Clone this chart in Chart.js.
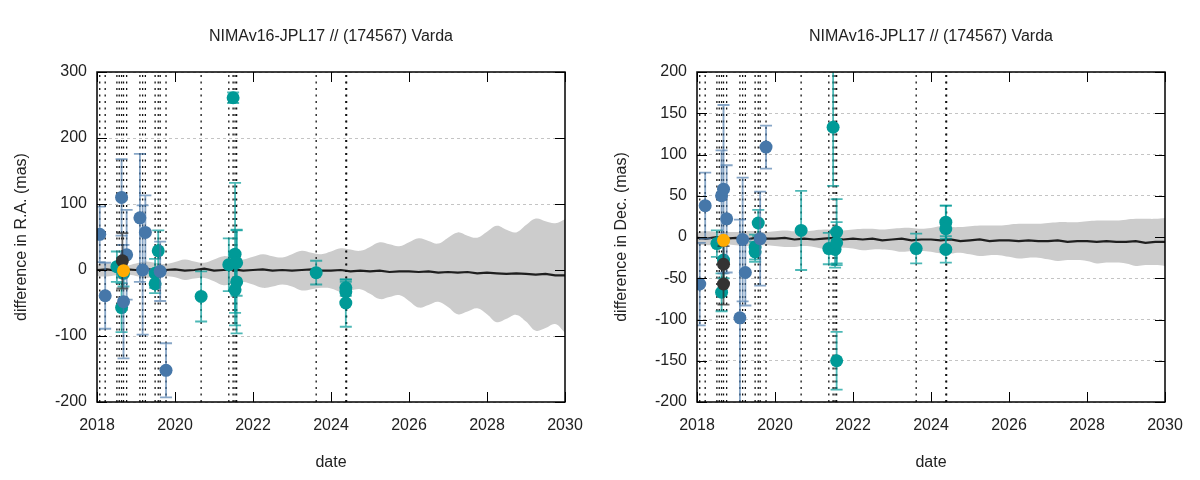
<!DOCTYPE html>
<html>
<head>
<meta charset="utf-8">
<script src="https://cdn.jsdelivr.net/npm/chart.js@4.4.1/dist/chart.umd.min.js"></script>
<style>
  body { margin: 0; background: #fff; width: 1200px; height: 480px; overflow: hidden; font-family: "Liberation Sans", Arial, sans-serif; }
  .panel { position: absolute; top: 0; width: 600px; height: 480px; }
  .title { position: absolute; left: 97px; width: 468px; top: 27px; text-align: center; font-size: 16px; color: #222; }
</style>
</head>
<body>
<div class="panel" style="left:0">
  <canvas id="ra" width="600" height="480"></canvas>
  <div class="title">NIMAv16-JPL17 // (174567) Varda</div>
</div>
<div class="panel" style="left:600px">
  <canvas id="dec" width="600" height="480"></canvas>
  <div class="title">NIMAv16-JPL17 // (174567) Varda</div>
</div>
<script>
// sampling of the prediction band and mean line
var sampleYears = [2018, 2018.25, 2018.5, 2018.75, 2019, 2019.25, 2019.5, 2019.75, 2020, 2020.25, 2020.5, 2020.75,
  2021, 2021.25, 2021.5, 2021.75, 2022, 2022.25, 2022.5, 2022.75, 2023, 2023.25, 2023.5, 2023.75,
  2024, 2024.25, 2024.5, 2024.75, 2025, 2025.25, 2025.5, 2025.75, 2026, 2026.25, 2026.5, 2026.75,
  2027, 2027.25, 2027.5, 2027.75, 2028, 2028.25, 2028.5, 2028.75, 2029, 2029.25, 2029.5, 2029.75, 2030];

var raUpper = [9, 10, 8, 7, 10, 13, 11, 9, 12, 16, 13, 11, 16, 21, 18, 16, 20, 24, 21, 19, 24, 29, 26, 24,
  28, 33, 31, 29, 35, 42, 39, 36, 42, 48, 44, 40, 49, 57, 52, 49, 58, 67, 61, 57, 68, 78, 74, 71, 77];
var raLower = [-9, -10, -8, -7, -9, -12, -10, -9, -11, -15, -13, -12, -17, -23, -20, -18, -22, -27, -25, -22,
  -25, -31, -29, -27, -28, -33, -31, -29, -36, -44, -41, -38, -47, -57, -53, -48, -56, -67, -63, -58,
  -67, -79, -74, -68, -78, -92, -88, -82, -95];
var raMean = [0, 1, -1, 1, 0, 2, -1, 0, 1, -1, 0, 2, -1, 0, 1, -1, 0, 1, -1, 0, -1, 0, 1, -1,
  -1, 0, -2, -1, -2, -1, -3, -2, -2, -3, -2, -4, -3, -4, -3, -5, -4, -5, -6, -5, -6, -7, -6, -8, -8];

var decUpper = [6, 7, 6, 6, 6, 7, 7, 6, 7, 8, 7, 7, 8, 9, 9, 8, 9, 10, 10, 9, 10, 11, 11, 10,
  11, 13, 12, 12, 13, 14, 14, 14, 15, 16, 16, 16, 17, 18, 18, 18, 19, 20, 20, 20, 21, 22, 22, 22, 23];
var decLower = [-9, -10, -9, -9, -10, -11, -10, -10, -11, -12, -12, -11, -12, -14, -13, -13, -14, -16, -15, -15,
  -16, -18, -17, -17, -18, -20, -20, -19, -21, -23, -22, -22, -24, -26, -25, -25, -27, -29, -28, -28,
  -29, -32, -31, -31, -32, -35, -34, -34, -35];
var decMean = [-1, -2, 0, -2, -1, -3, -1, -2, -2, -1, -3, -2, -3, -2, -1, -3, -2, -3, -2, -4, -3, -2, -4, -3,
  -3, -4, -3, -5, -4, -3, -5, -4, -4, -5, -4, -5, -5, -4, -6, -5, -5, -6, -5, -6, -6, -5, -7, -6, -6];

// observation epochs (dotted verticals)
var obsDates = [2018.07, 2018.21, 2018.51, 2018.57, 2018.63, 2018.68, 2018.76, 2019.10, 2019.17, 2019.24,
  2019.49, 2019.57, 2019.62, 2019.77, 2020.67, 2021.38, 2021.49, 2021.54, 2021.58, 2023.62, 2024.38, 2024.40];

// R.A. residuals
var raBlueDates = [2018.07, 2018.21, 2018.63, 2018.68, 2018.76, 2019.10, 2019.17, 2019.24, 2019.62, 2019.77];
var raBlueVals  = [54, -39, 110, -48, 23, 79, 0, 57, -2, -152];
var raBlueErr   = [42, 50, 58, 86, 68, 97, 98, 56, 45, 41];

var raTealDates = [2018.51, 2018.63, 2018.68, 2019.49, 2019.49, 2019.57, 2020.67, 2021.38, 2021.49, 2021.54,
  2021.54, 2021.58, 2021.58, 2023.62, 2024.38, 2024.38, 2024.38];
var raTealVals  = [5, -57, -5, -5, -21, 29, -40, 8, 261, 24, -30, 11, -18, -4, -27, -33, -50];
var raTealErr   = [23, 37, 20, 22, 14, 31, 38, 40, 8, 108, 35, 50, 78, 18, 12, 15, 36];

var raDarkDates = [2018.65];
var raDarkVals  = [14];
var raDarkErr   = [42];

var raOrangeDates = [2018.68];
var raOrangeVals  = [-1];
var raOrangeErr   = [0];

// Dec. residuals
var decBlueDates = [2018.07, 2018.21, 2018.63, 2018.68, 2018.76, 2019.10, 2019.17, 2019.24, 2019.62, 2019.77];
var decBlueVals  = [-57, 38, 50, 58, 22, -98, -3, -43, -2, 109];
var decBlueErr   = [50, 40, 55, 102, 65, 119, 75, 40, 57, 26];

var decTealDates = [2018.51, 2018.63, 2018.68, 2019.49, 2019.49, 2019.57, 2020.67, 2021.38, 2021.49, 2021.54,
  2021.58, 2021.58, 2021.58, 2023.62, 2024.38, 2024.38, 2024.38];
var decTealVals  = [-8, -67, -28, -12, -18, 17, 8, -14, 133, -15, 6, -7, -150, -14, 18, 10, -15];
var decTealErr   = [16, 23, 22, 15, 12, 16, 48, 19, 71, 22, 40, 25, 35, 18, 20, 28, 16];

var decDarkDates = [2018.68, 2018.68];
var decDarkVals  = [-33, -57];
var decDarkErr   = [22, 25];

var decOrangeDates = [2018.68];
var decOrangeVals  = [-4];
var decOrangeErr   = [0];

function pts(xs, ys, es) {
  return xs.map(function (x, i) { return { x: x, y: ys[i], e: es ? es[i] : 0 }; });
}

var errorBars = {
  id: 'errorBars',
  beforeDatasetDraw: function (chart, args) {
    var ds = chart.data.datasets[args.index];
    if (!ds.errColor) return;
    var ctx = chart.ctx, xs = chart.scales.x, ys = chart.scales.y, a = chart.chartArea;
    ctx.save();
    ctx.beginPath();
    ctx.rect(a.left, a.top, a.right - a.left, a.bottom - a.top);
    ctx.clip();
    ctx.strokeStyle = ds.errColor;
    ctx.lineWidth = 1.8;
    ds.data.forEach(function (p) {
      if (!p.e) return;
      var px = xs.getPixelForValue(p.x);
      var top = ys.getPixelForValue(p.y + p.e);
      var bot = ys.getPixelForValue(p.y - p.e);
      ctx.beginPath();
      ctx.moveTo(px, top); ctx.lineTo(px, bot);
      ctx.moveTo(px - 6, top); ctx.lineTo(px + 6, top);
      ctx.moveTo(px - 6, bot); ctx.lineTo(px + 6, bot);
      ctx.stroke();
    });
    ctx.restore();
  }
};

// gnuplot-like frame with inward ticks
var frame = {
  id: 'frame',
  afterDraw: function (chart) {
    var ctx = chart.ctx, a = chart.chartArea, xs = chart.scales.x, ys = chart.scales.y;
    ctx.save();
    ctx.strokeStyle = '#000';
    ctx.lineWidth = 1;
    ctx.beginPath();
    xs.ticks.forEach(function (t) {
      var px = Math.round(xs.getPixelForValue(t.value)) + 0.5;
      ctx.moveTo(px, a.bottom); ctx.lineTo(px, a.bottom - 10);
      ctx.moveTo(px, a.top); ctx.lineTo(px, a.top + 10);
    });
    ys.ticks.forEach(function (t) {
      var py = Math.round(ys.getPixelForValue(t.value)) + 0.5;
      ctx.moveTo(a.left, py); ctx.lineTo(a.left + 10, py);
      ctx.moveTo(a.right, py); ctx.lineTo(a.right - 10, py);
    });
    ctx.stroke();
    ctx.lineWidth = 1.5;
    ctx.strokeRect(a.left, a.top, a.right - a.left, a.bottom - a.top);
    ctx.restore();
  }
};

function makeChart(id, o) {
  var datasets = [];
  datasets.push({ data: pts(sampleYears, o.upper), fill: '+1', backgroundColor: '#cccccc',
    borderColor: 'rgba(0,0,0,0)', borderWidth: 0, pointRadius: 0, tension: 0.4, order: 6 });
  datasets.push({ data: pts(sampleYears, o.lower), fill: false,
    borderColor: 'rgba(0,0,0,0)', borderWidth: 0, pointRadius: 0, tension: 0.4, order: 6 });
  datasets.push({ data: pts(sampleYears, o.mean), fill: false, borderColor: '#1e1e1e',
    borderWidth: 2.2, pointRadius: 0, tension: 0, order: 5 });
  obsDates.forEach(function (d) {
    datasets.push({ data: [{ x: d, y: o.min }, { x: d, y: o.max }], fill: false, borderColor: '#111',
      borderWidth: 1.3, borderDash: [2, 4.5], pointRadius: 0, order: 4 });
  });
  o.series.forEach(function (s) {
    datasets.push({ data: pts(s.x, s.y, s.e), showLine: false, fill: false, pointRadius: 6.5,
      pointBorderWidth: 0, pointBackgroundColor: s.color, borderColor: s.color,
      errColor: s.bar, order: s.order });
  });

  return new Chart(document.getElementById(id), {
    type: 'line',
    data: { datasets: datasets },
    options: {
      responsive: false,
      animation: false,
      events: [],
      layout: { padding: { left: 0, right: 35, top: 72, bottom: 0 } },
      plugins: { legend: { display: false }, tooltip: { enabled: false } },
      scales: {
        x: {
          type: 'linear', min: 2018, max: 2030,
          afterFit: function (s) { s.height = 78; },
          grid: { display: false, drawTicks: false },
          border: { display: false },
          ticks: { stepSize: 2, padding: 14, color: '#222', font: { size: 16 },
            callback: function (v) { return String(v); } },
          title: { display: true, text: 'date', color: '#222', font: { size: 16 }, padding: { top: 0, bottom: 8 } }
        },
        y: {
          min: o.min, max: o.max,
          afterFit: function (s) { s.width = 97; },
          grid: { color: '#c4c4c4', lineWidth: 1, drawTicks: false },
          border: { display: false, dash: [3, 3] },
          ticks: { stepSize: o.step, padding: 10, color: '#222', font: { size: 16 } },
          title: { display: true, text: o.label, color: '#222', font: { size: 16 }, padding: { top: 12, bottom: 0 } }
        }
      }
    },
    plugins: [errorBars, frame]
  });
}

Chart.defaults.font.family = '"Liberation Sans", Arial, sans-serif';

makeChart('ra', {
  min: -200, max: 300, step: 100, label: 'difference in R.A. (mas)',
  upper: raUpper, lower: raLower, mean: raMean,
  series: [
    { x: raTealDates, y: raTealVals, e: raTealErr, color: '#009a97', bar: 'rgba(0,154,151,0.7)', order: 3 },
    { x: raBlueDates, y: raBlueVals, e: raBlueErr, color: '#4677a9', bar: 'rgba(70,119,169,0.65)', order: 2 },
    { x: raDarkDates, y: raDarkVals, e: raDarkErr, color: '#333333', bar: 'rgba(40,40,40,0.7)', order: 1 },
    { x: raOrangeDates, y: raOrangeVals, e: raOrangeErr, color: '#ffab00', bar: 'rgba(255,171,0,0.7)', order: 0 }
  ]
});

makeChart('dec', {
  min: -200, max: 200, step: 50, label: 'difference in Dec. (mas)',
  upper: decUpper, lower: decLower, mean: decMean,
  series: [
    { x: decTealDates, y: decTealVals, e: decTealErr, color: '#009a97', bar: 'rgba(0,154,151,0.7)', order: 3 },
    { x: decBlueDates, y: decBlueVals, e: decBlueErr, color: '#4677a9', bar: 'rgba(70,119,169,0.65)', order: 2 },
    { x: decDarkDates, y: decDarkVals, e: decDarkErr, color: '#333333', bar: 'rgba(40,40,40,0.7)', order: 1 },
    { x: decOrangeDates, y: decOrangeVals, e: decOrangeErr, color: '#ffab00', bar: 'rgba(255,171,0,0.7)', order: 0 }
  ]
});
</script>
</body>
</html>
